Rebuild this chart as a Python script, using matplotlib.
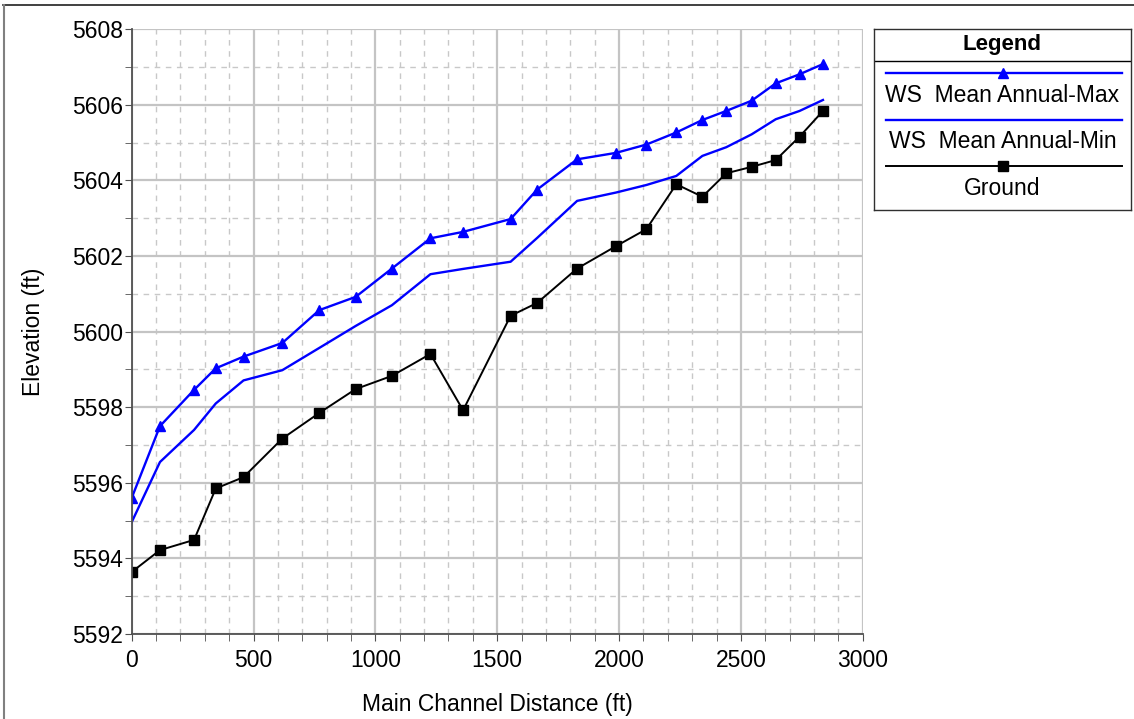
import matplotlib
matplotlib.use("Agg")
import matplotlib.pyplot as plt
from matplotlib.lines import Line2D
from matplotlib.ticker import MultipleLocator

plt.rcParams['font.family'] = ['Liberation Sans', 'DejaVu Sans']

# main channel distance (ft)
dist = [0, 116, 256, 345, 459, 618, 770, 919, 1068, 1226, 1360, 1555,
        1664, 1828, 1987, 2112, 2235, 2342, 2440, 2544, 2643, 2741, 2837]
ws_max = [5595.60, 5597.50, 5598.46, 5599.03, 5599.34, 5599.70, 5600.57,
          5600.92, 5601.67, 5602.47, 5602.64, 5602.98, 5603.76, 5604.56,
          5604.73, 5604.95, 5605.27, 5605.60, 5605.84, 5606.11, 5606.57,
          5606.81, 5607.08]
ws_min = [5594.96, 5596.55, 5597.40, 5598.10, 5598.71, 5598.98, 5599.57,
          5600.15, 5600.70, 5601.52, 5601.66, 5601.85, 5602.48, 5603.46,
          5603.68, 5603.88, 5604.12, 5604.65, 5604.88, 5605.22, 5605.62,
          5605.84, 5606.13]
ground = [5593.64, 5594.22, 5594.49, 5595.85, 5596.15, 5597.17, 5597.85,
          5598.48, 5598.83, 5599.41, 5597.92, 5600.42, 5600.76, 5601.67,
          5602.26, 5602.71, 5603.90, 5603.57, 5604.19, 5604.36, 5604.54,
          5605.16, 5605.84]
labels = ["WS  Mean Annual-Max", "WS  Mean Annual-Min", "Ground"]

W, H = 1134, 719
fig = plt.figure(figsize=(W / 100, H / 100), dpi=100)
ax = fig.add_axes([131.7 / W, 1 - 634 / H, (862.7 - 131.7) / W, (634 - 29.3) / H])

ax.plot(dist, ws_max, color="#0000ff", lw=1.7, marker="^", ms=7.5, zorder=4)
ax.plot(dist, ws_min, color="#0000ff", lw=1.7, zorder=3)
ax.plot(dist, ground, color="black", lw=1.4, marker="s", ms=7, zorder=5)

ax.set_xlim(0, 3000)
ax.set_ylim(5592, 5608)
ax.xaxis.set_major_locator(MultipleLocator(500))
ax.xaxis.set_minor_locator(MultipleLocator(100))
ax.yaxis.set_major_locator(MultipleLocator(2))
ax.yaxis.set_minor_locator(MultipleLocator(1))
ax.grid(which="major", color="#c4c4c4", lw=1.6, ls="-", zorder=1)
ax.grid(which="minor", color="#c8c8c8", lw=1.0, ls=(0, (4, 4)), zorder=1)
ax.tick_params(which="both", direction="out", length=5, color="#505050",
               labelsize=16.5)
ax.tick_params(axis="x", pad=6)
ax.tick_params(axis="y", pad=1)
for s in ["top", "right"]:
    ax.spines[s].set_visible(False)
for s in ["left", "bottom"]:
    ax.spines[s].set_color("#505050")
    ax.spines[s].set_linewidth(1.3)
    ax.spines[s].set_zorder(6)
ax.set_xlabel("Main Channel Distance (ft)", fontsize=16.5, labelpad=15)
ax.set_ylabel("Elevation (ft)", fontsize=16.5, labelpad=20)

# legend box
lax = fig.add_axes([874 / W, 1 - 210 / H, (1131 - 874) / W, (210 - 29.3) / H])
lax.set_xlim(0, 257)
lax.set_ylim(181, 0)
lax.set_xticks([])
lax.set_yticks([])
for s in lax.spines.values():
    s.set_color("#303030")
    s.set_linewidth(1.0)
lax.axhline(32, color="black", lw=1.0)
lax.text(128.5, 15, "Legend", ha="center", va="center", fontsize=16, fontweight="bold")
styles = [dict(color="#0000ff", lw=1.7, marker="^", ms=7.5),
          dict(color="#0000ff", lw=1.7),
          dict(color="black", lw=1.4, marker="s", ms=7)]
for i, (lab, st) in enumerate(zip(labels, styles)):
    y = 44 + i * 46.7
    lax.add_line(Line2D([12, 248], [y, y], markevery=[], **st))
    if "marker" in st:
        lax.plot([129], [y], ls="none", marker=st["marker"], ms=st["ms"], color=st["color"])
    lax.text(128.5, y + 22, lab, ha="center", va="center", fontsize=16.5)

# outer frame (top and left only)
fig.add_artist(Line2D([3 / W, 1], [1 - 5 / H, 1 - 5 / H], color="#202020", lw=1.2))
fig.add_artist(Line2D([4 / W, 4 / W], [1 - 5 / H, 0], color="#808080", lw=1.5))

fig.savefig("out.png", dpi=100)
